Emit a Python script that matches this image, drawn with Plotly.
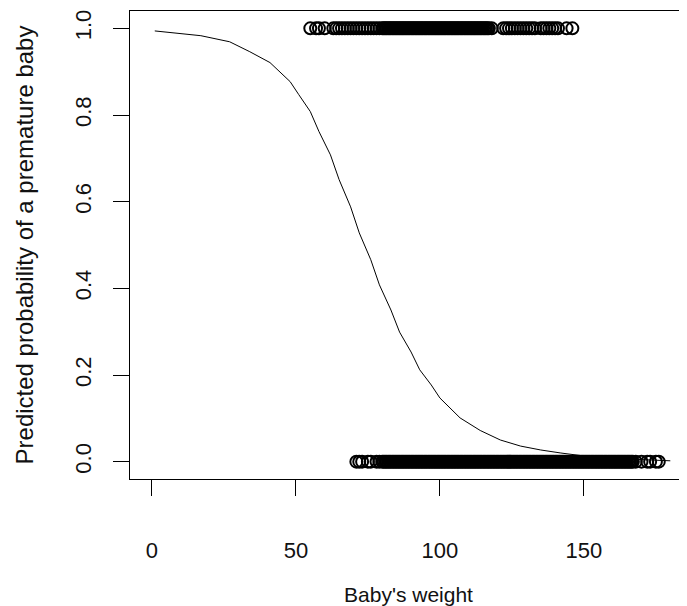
import plotly.graph_objects as go

# Observed outcomes: babies' weights, premature (1) and not premature (0)
weight_premature = [55, 57, 58, 60, 63, 64, 65, 66, 67, 68, 69, 70, 71, 72, 73, 74, 75,
                    76, 77, 78, 79, 80, 80.5, 81, 81.5, 82, 82.5, 83, 83.5, 84, 84.5, 85,
                    85.5, 86, 86.5, 87, 87.5, 88, 88.5, 89, 89.5, 90, 90.5, 91, 91.5, 92,
                    92.5, 93, 93.5, 94, 94.5, 95, 95.5, 96, 96.5, 97, 97.5, 98, 98.5, 99,
                    99.5, 100, 100.5, 101, 101.5, 102, 102.5, 103, 103.5, 104, 104.5, 105,
                    105.5, 106, 106.5, 107, 107.5, 108, 108.5, 109, 109.5, 110, 110.5, 111,
                    111.5, 112, 112.5, 113, 113.5, 114, 114.5, 115, 115.5, 116, 116.5, 117,
                    118, 122, 123, 124, 125, 126, 127, 128, 129, 130, 131, 132, 133, 135,
                    136, 137, 138, 139, 140, 141, 144, 146]
weight_term = [71, 72, 73, 75, 76, 78, 79, 80, 80.5, 81, 81.5, 82, 82.5, 83, 83.5, 84,
               84.5, 85, 85.5, 86, 86.5, 87, 87.5, 88, 88.5, 89, 89.5, 90, 90.5, 91, 91.5,
               92, 92.5, 93, 93.5, 94, 94.5, 95, 95.5, 96, 96.5, 97, 97.5, 98, 98.5, 99,
               99.5, 100, 100.5, 101, 101.5, 102, 102.5, 103, 103.5, 104, 104.5, 105,
               105.5, 106, 106.5, 107, 107.5, 108, 108.5, 109, 109.5, 110, 110.5, 111,
               111.5, 112, 112.5, 113, 113.5, 114, 114.5, 115, 115.5, 116, 116.5, 117,
               117.5, 118, 118.5, 119, 119.5, 120, 120.5, 121, 121.5, 122, 122.5, 123,
               123.5, 124, 124.5, 125, 125.5, 126, 126.5, 127, 127.5, 128, 128.5, 129,
               129.5, 130, 130.5, 131, 131.5, 132, 132.5, 133, 133.5, 134, 134.5, 135,
               135.5, 136, 136.5, 137, 137.5, 138, 138.5, 139, 139.5, 140, 140.5, 141,
               141.5, 142, 142.5, 143, 143.5, 144, 144.5, 145, 145.5, 146, 146.5, 147,
               147.5, 148, 148.5, 149, 149.5, 150, 150.5, 151, 151.5, 152, 152.5, 153,
               153.5, 154, 154.5, 155, 155.5, 156, 156.5, 157, 157.5, 158, 158.5, 159,
               159.5, 160, 160.5, 161, 161.5, 162, 162.5, 163, 163.5, 164, 164.5, 165,
               165.5, 166, 166.5, 167, 168, 170, 172, 173, 175, 176]

# Fitted curve
curve_weight = [1, 17, 27, 34, 41, 48, 51, 55, 58, 62, 65, 69, 72, 76, 79, 83, 86, 90,
                93, 97, 100, 107, 114, 121, 128, 135, 142, 149, 156, 163, 169, 180]
curve_prob = [0.994, 0.983, 0.969, 0.946, 0.921, 0.877, 0.847, 0.808, 0.762, 0.708,
              0.651, 0.588, 0.528, 0.466, 0.408, 0.350, 0.299, 0.253, 0.212, 0.177,
              0.147, 0.101, 0.072, 0.050, 0.036, 0.027, 0.020, 0.014, 0.010, 0.007,
              0.005, 0.002]

x_ticks = [0, 50, 100, 150]
y_ticks = [0.0, 0.2, 0.4, 0.6, 0.8, 1.0]
y_tick_labels = ["0.0", "0.2", "0.4", "0.6", "0.8", "1.0"]

FONT = "Liberation Sans, Arial, Helvetica, sans-serif"

fig = go.Figure()
fig.add_trace(go.Scatter(
    x=weight_premature, y=[1] * len(weight_premature), mode="markers",
    marker=dict(symbol="circle-open", size=12, color="black", line=dict(width=2)),
    showlegend=False, hoverinfo="x+y"))
fig.add_trace(go.Scatter(
    x=weight_term, y=[0] * len(weight_term), mode="markers",
    marker=dict(symbol="circle-open", size=12, color="black", line=dict(width=2)),
    showlegend=False, hoverinfo="x+y"))
fig.add_trace(go.Scatter(
    x=curve_weight, y=curve_prob, mode="lines",
    line=dict(color="black", width=1), showlegend=False))

# The page body has an 8px default margin, so the figure is sized to fit the window.
fig.update_layout(
    width=679, height=598,
    margin=dict(l=122, r=0, t=3, b=127),
    paper_bgcolor="white", plot_bgcolor="white",
    font=dict(family=FONT, size=22, color="#111"),
    xaxis=dict(
        range=[-7.6, 185.8], tickvals=x_ticks, ticks="outside", ticklen=16,
        tickwidth=1, tickcolor="black", showgrid=False, zeroline=False,
        showline=True, linecolor="black", linewidth=1, mirror=True,
        automargin=False, ticklabelstandoff=36,
        title=dict(text="Baby's weight", standoff=40, font=dict(size=21)),
        tickfont=dict(size=22)),
    yaxis=dict(
        range=[-0.04, 1.04], tickvals=y_ticks, ticktext=y_tick_labels,
        ticks="outside", ticklen=16, tickwidth=1, tickcolor="black",
        showgrid=False, zeroline=False, showline=True, linecolor="black",
        linewidth=1, mirror=False, tickangle=-90, ticklabelstandoff=13,
        automargin=False,
        title=dict(text="Predicted probability of a premature baby", standoff=30,
                   font=dict(size=24)),
        tickfont=dict(size=22)),
)

fig.write_html("out.html")
